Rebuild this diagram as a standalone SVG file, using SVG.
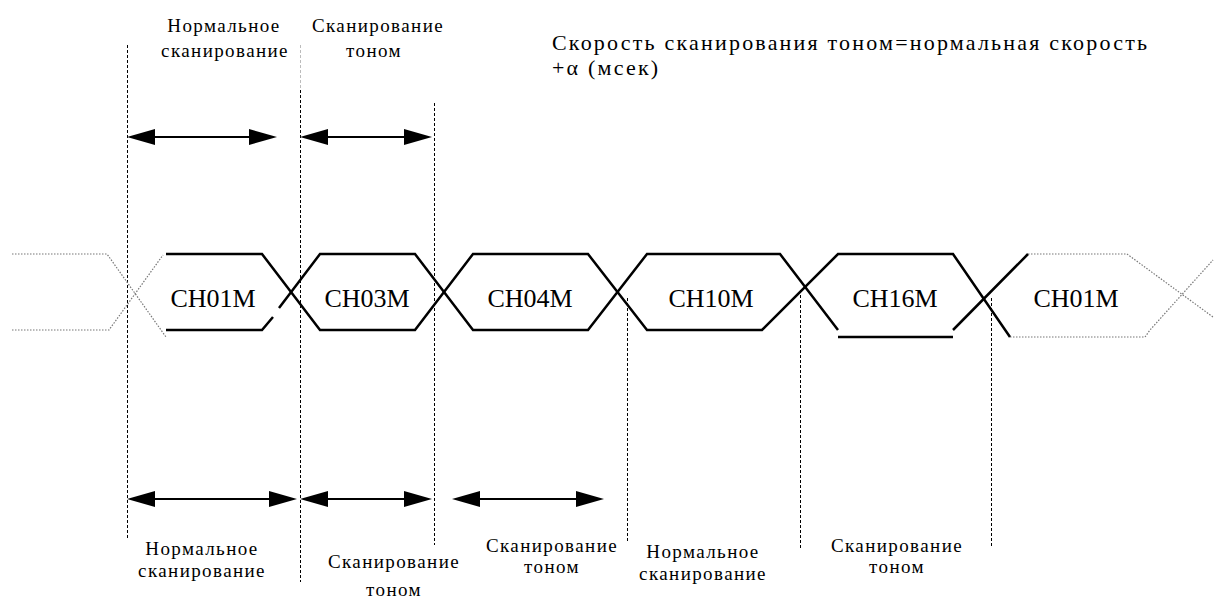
<svg xmlns="http://www.w3.org/2000/svg" width="1214" height="598" viewBox="0 0 1214 598" font-family="Liberation Serif">
<defs>
<path id="hd" d="M0,0 L-28,-8 L-28,8 Z" fill="#000"/>
</defs>
<rect width="1214" height="598" fill="#fff"/>
<g id="guides" stroke="#000" stroke-width="1" stroke-dasharray="3,2" fill="none">
<line x1="127.5" y1="45" x2="127.5" y2="540"/>
<line x1="300.5" y1="45" x2="300.5" y2="90" stroke="#bbb"/>
<line x1="300.5" y1="90" x2="300.5" y2="582"/>
<line x1="434.5" y1="103" x2="434.5" y2="545"/>
<line x1="627.5" y1="298" x2="627.5" y2="543"/>
<line x1="800.5" y1="290" x2="800.5" y2="548"/>
<line x1="991.5" y1="298" x2="991.5" y2="548"/>
</g>
<g id="connectors">
<g stroke="#000" stroke-width="2" fill="none">
<line x1="145" y1="137" x2="259" y2="137"/>
<line x1="318" y1="137" x2="414" y2="137"/>
<line x1="145" y1="499" x2="279" y2="499"/>
<line x1="318" y1="499" x2="414" y2="499"/>
<line x1="470" y1="499" x2="586" y2="499"/>
</g>
<use href="#hd" transform="translate(127,137) rotate(180)"/>
<use href="#hd" transform="translate(277,137)"/>
<use href="#hd" transform="translate(300,137) rotate(180)"/>
<use href="#hd" transform="translate(432,137)"/>
<use href="#hd" transform="translate(127,499) rotate(180)"/>
<use href="#hd" transform="translate(297,499)"/>
<use href="#hd" transform="translate(300,499) rotate(180)"/>
<use href="#hd" transform="translate(432,499)"/>
<use href="#hd" transform="translate(452,499) rotate(180)"/>
<use href="#hd" transform="translate(604,499)"/>
</g>
<g id="signal" fill="none">
<g stroke="#777" stroke-width="1.2" stroke-dasharray="1.5,1.5">
<path d="M12,254 H107 L166,337 M12,330 H109 L163,255"/>
<path d="M1028,254 H1127 L1213,317 M1010,337 H1145 L1150,330 L1213,260"/>
</g>
<g stroke="#000" stroke-width="2.5">
<path d="M166,254 H262 L320,330 H415 L473,254 H588 L647,330 H762 L838,254 H953 L1010,337"/>
<path d="M166,330 H262 L273,317 M279,308 L320,254 H415 L473,330 H588 L647,254 H780 L838,330"/>
<path d="M838,337 H953 M953,330 L1028,254"/>
</g>
</g>
<g id="node-ch01m"><text font-family="Liberation Serif" font-size="26" text-anchor="middle" x="213" y="307">CH01M</text></g>
<g id="node-ch03m"><text font-family="Liberation Serif" font-size="26" text-anchor="middle" x="367" y="307">CH03M</text></g>
<g id="node-ch04m"><text font-family="Liberation Serif" font-size="26" text-anchor="middle" x="530" y="307">CH04M</text></g>
<g id="node-ch10m"><text font-family="Liberation Serif" font-size="26" text-anchor="middle" x="711" y="307">CH10M</text></g>
<g id="node-ch16m"><text font-family="Liberation Serif" font-size="26" text-anchor="middle" x="895" y="307">CH16M</text></g>
<g id="node-ch01m-2"><text font-family="Liberation Serif" font-size="26" text-anchor="middle" x="1076" y="307">CH01M</text></g>
<g id="labels" fill="#000">
<text font-family="Liberation Serif" font-size="19" text-anchor="middle" letter-spacing="1.4" x="224" y="32">Нормальное</text>
<text font-family="Liberation Serif" font-size="19" text-anchor="middle" letter-spacing="1.4" x="225" y="57">сканирование</text>
<text font-family="Liberation Serif" font-size="19" text-anchor="middle" letter-spacing="1.4" x="378" y="32">Сканирование</text>
<text font-family="Liberation Serif" font-size="19" text-anchor="middle" letter-spacing="1.4" x="374" y="57">тоном</text>
<text font-family="Liberation Serif" font-size="19" text-anchor="middle" letter-spacing="1.4" x="202" y="555">Нормальное</text>
<text font-family="Liberation Serif" font-size="19" text-anchor="middle" letter-spacing="1.4" x="202" y="577">сканирование</text>
<text font-family="Liberation Serif" font-size="19" text-anchor="middle" letter-spacing="1.4" x="394" y="568">Сканирование</text>
<text font-family="Liberation Serif" font-size="19" text-anchor="middle" letter-spacing="1.4" x="394" y="596">тоном</text>
<text font-family="Liberation Serif" font-size="19" text-anchor="middle" letter-spacing="1.4" x="552" y="552">Сканирование</text>
<text font-family="Liberation Serif" font-size="19" text-anchor="middle" letter-spacing="1.4" x="552" y="573">тоном</text>
<text font-family="Liberation Serif" font-size="19" text-anchor="middle" letter-spacing="1.4" x="703" y="558">Нормальное</text>
<text font-family="Liberation Serif" font-size="19" text-anchor="middle" letter-spacing="1.4" x="703" y="580">сканирование</text>
<text font-family="Liberation Serif" font-size="19" text-anchor="middle" letter-spacing="1.4" x="897" y="552">Сканирование</text>
<text font-family="Liberation Serif" font-size="19" text-anchor="middle" letter-spacing="1.4" x="897" y="573">тоном</text>
<text font-family="Liberation Serif" font-size="22" letter-spacing="2.2" x="552" y="50">Скорость сканирования тоном=нормальная скорость</text>
<text font-family="Liberation Serif" font-size="22" letter-spacing="2.2" x="552" y="75">+α (мсек)</text>
</g>
</svg>
